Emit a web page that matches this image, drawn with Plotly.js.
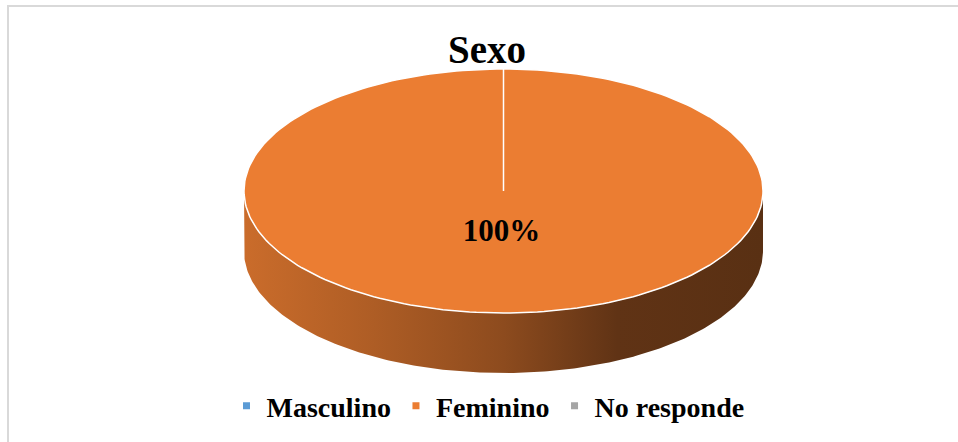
<!DOCTYPE html>
<html>
<head>
<meta charset="utf-8">
<script src="https://cdn.plot.ly/plotly-3.0.1.min.js"></script>
<style>
  html, body { margin: 0; padding: 0; background: #ffffff; }
  #chart { width: 958px; height: 442px; }
</style>
</head>
<body>
<div id="chart"></div>
<script>
// ---- data ----
const categories = ['Masculino', 'Feminino', 'No responde'];
const values = [0, 100, 0];
const colors = ['#5B9BD5', '#EB7D32', '#A5A5A5'];
const chartTitle = 'Sexo';

// ---- geometry (pixel space: axes map 1:1 to the page) ----
const W = 958, H = 442;
const cx = 503.5, cy = 191, rx = 259.5, ry = 122, depth = 60;
const STEPS = 240;
const FONT = 'Liberation Serif';

function pt(t, dy) { // t: clockwise angle from 12 o'clock (radians)
  return [cx + rx * Math.sin(t), cy - ry * Math.cos(t) + (dy || 0)];
}
function shade(hex, f) {
  const n = parseInt(hex.slice(1), 16);
  const r = Math.round(((n >> 16) & 255) * f), g = Math.round(((n >> 8) & 255) * f), b = Math.round((n & 255) * f);
  return 'rgb(' + r + ',' + g + ',' + b + ')';
}

const total = values.reduce((a, b) => a + b, 0);
const sideTraces = [], topTraces = [], legendTraces = [];
let acc = 0;
const labelX = [], labelY = [], labelT = [];

values.forEach((v, i) => {
  const a0 = acc / total * 2 * Math.PI;
  acc += v;
  const a1 = acc / total * 2 * Math.PI;
  legendTraces.push({
    type: 'scatter', mode: 'markers', x: [null], y: [null], name: categories[i],
    marker: { symbol: 'square', size: 7, color: colors[i] }, hoverinfo: 'skip', showlegend: true
  });
  if (v <= 0) return;
  const b0 = Math.max(a0, Math.PI / 2), b1 = Math.min(a1, 3 * Math.PI / 2);
  if (b1 > b0) {
    const xs = [], ys = [];
    for (let k = 0; k <= STEPS; k++) { const p = pt(b0 + (b1 - b0) * k / STEPS); xs.push(p[0]); ys.push(p[1]); }
    for (let k = STEPS; k >= 0; k--) { const p = pt(b0 + (b1 - b0) * k / STEPS, depth); xs.push(p[0]); ys.push(p[1]); }
    xs.push(xs[0]); ys.push(ys[0]);
    sideTraces.push({
      type: 'scatter', mode: 'lines', x: xs, y: ys, fill: 'toself',
      line: { width: 0, color: shade(colors[i], 0.5) },
      fillgradient: {
        type: 'horizontal',
        colorscale: [
          [0, shade(colors[i], 0.86)], [0.25, shade(colors[i], 0.74)], [0.5, shade(colors[i], 0.6)],
          [0.72, shade(colors[i], 0.41)], [1, shade(colors[i], 0.38)]
        ]
      },
      hoverinfo: 'skip', showlegend: false
    });
  }
  const xs = [cx], ys = [cy];
  for (let k = 0; k <= STEPS; k++) { const p = pt(a0 + (a1 - a0) * k / STEPS); xs.push(p[0]); ys.push(p[1]); }
  xs.push(cx); ys.push(cy);
  topTraces.push({
    type: 'scatter', mode: 'lines', x: xs, y: ys, fill: 'toself', fillcolor: colors[i],
    line: { color: '#FFFFFF', width: 1.5 }, hoverinfo: 'skip', showlegend: false
  });
  const mid = (a0 + a1) / 2;
  labelX.push(cx + 0.35 * rx * Math.sin(mid) - 2);
  labelY.push(cy - 0.345 * ry * Math.cos(mid));
  labelT.push(Math.round(v / total * 100) + '%');
});

const labelTrace = {
  type: 'scatter', mode: 'text', x: labelX, y: labelY, text: labelT,
  textposition: 'middle center',
  textfont: { family: FONT, size: 31, color: '#000000', weight: 'bold' },
  hoverinfo: 'skip', showlegend: false
};

const data = [...sideTraces, ...topTraces, labelTrace, ...legendTraces];

const layout = {
  width: W, height: H,
  margin: { l: 0, r: 0, t: 0, b: 0 },
  paper_bgcolor: '#FFFFFF', plot_bgcolor: '#FFFFFF',
  font: { family: FONT },
  xaxis: { range: [0, W], visible: false, fixedrange: true },
  yaxis: { range: [H, 0], visible: false, fixedrange: true },
  title: {
    text: chartTitle,
    font: { family: FONT, size: 39, color: '#000000', weight: 'bold' },
    x: 487 / W, xanchor: 'center', xref: 'paper',
    y: 1 - 63 / H, yanchor: 'bottom', yref: 'paper'
  },
  showlegend: true,
  legend: {
    orientation: 'h', x: 488 / W, xanchor: 'center', y: 1 - 406 / H, yanchor: 'middle',
    font: { family: FONT, size: 28, color: '#000000', weight: 'bold' },
    bgcolor: 'rgba(0,0,0,0)', traceorder: 'normal'
  },
  shapes: [{
    type: 'rect', xref: 'x', yref: 'y', x0: 8, y0: 6, x1: W + 40, y1: H + 40,
    line: { color: '#D9D9D9', width: 2 }, fillcolor: 'rgba(0,0,0,0)', layer: 'below'
  }],
  hovermode: false
};

Plotly.newPlot('chart', data, layout, { displayModeBar: false, staticPlot: true });
</script>
</body>
</html>
